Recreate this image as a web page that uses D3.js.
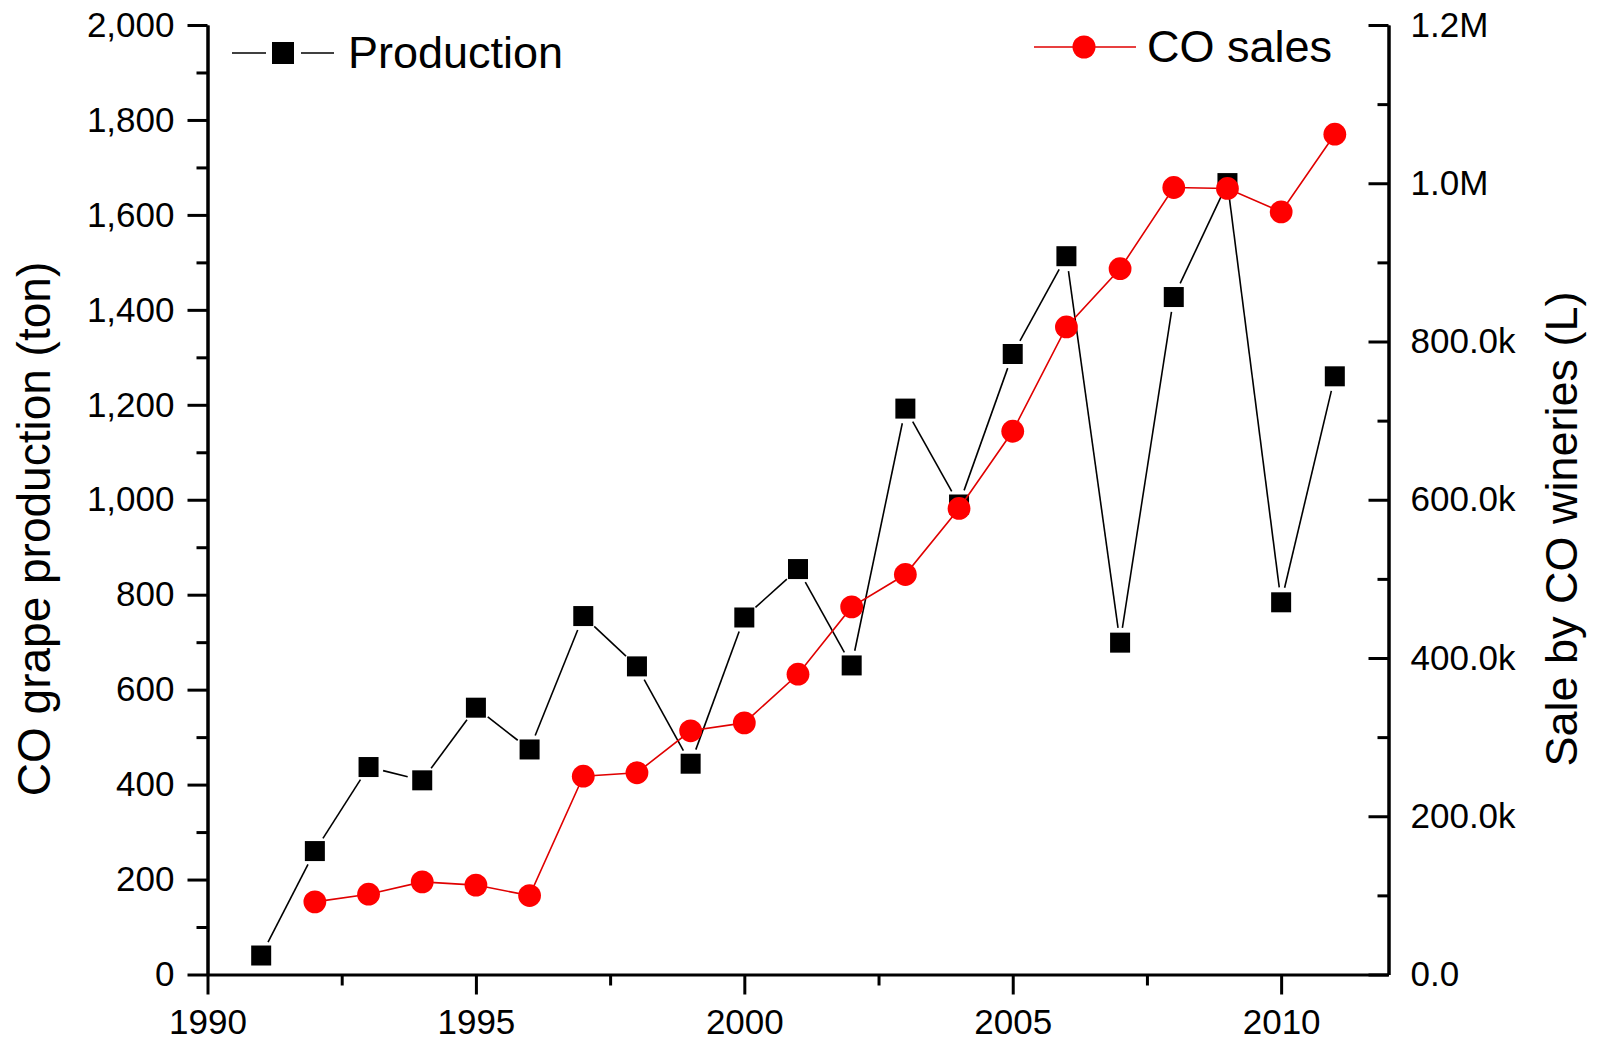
<!DOCTYPE html>
<html>
<head>
<meta charset="utf-8">
<script src="https://cdn.jsdelivr.net/npm/d3@7"></script>
<style>
  html, body { margin: 0; padding: 0; background: #fff; }
  svg { display: block; font-family: "Liberation Sans", Arial, sans-serif; }
</style>
</head>
<body>
<svg id="chart" width="1604" height="1040"></svg>
<script>
// ---- data ----
const prodYears = [1991, 1992, 1993, 1994, 1995, 1996, 1997, 1998, 1999, 2000, 2001, 2002, 2003, 2004, 2005, 2006, 2007, 2008, 2009, 2010, 2011];
const production = [40, 260, 437, 409, 562, 474, 755, 649, 444, 752, 854, 651, 1192, 990, 1307, 1513, 699, 1427, 1667, 784, 1260];
const salesYears = [1992, 1993, 1994, 1995, 1996, 1997, 1998, 1999, 2000, 2001, 2002, 2003, 2004, 2005, 2006, 2007, 2008, 2009, 2010, 2011];
const sales = [91800, 101500, 117000, 113000, 99800, 250600, 255000, 308000, 318000, 379500, 464600, 505500, 589000, 686600, 818400, 892000, 994600, 993400, 963800, 1062000];

const xMajor = [1990, 1995, 2000, 2005, 2010];
const xMinor = [1992.5, 1997.5, 2002.5, 2007.5];
const yLeftMajor = [0, 200, 400, 600, 800, 1000, 1200, 1400, 1600, 1800, 2000];
const yLeftMinor = [100, 300, 500, 700, 900, 1100, 1300, 1500, 1700, 1900];
const yRightMajor = [0, 200000, 400000, 600000, 800000, 1000000, 1200000];
const yRightMinor = [100000, 300000, 500000, 700000, 900000, 1100000];

const seriesNames = ["Production", "CO sales"];
const leftTitle = "CO grape production (ton)";
const rightTitle = "Sale by CO wineries (L)";

// ---- layout ----
const L = 207.5, R = 1388.5, T = 25, B = 974.5;
const svg = d3.select("#chart");

const x = d3.scaleLinear().domain([1990, 2012]).range([L, R]);
const yL = d3.scaleLinear().domain([0, 2000]).range([B, T]);
const yR = d3.scaleLinear().domain([0, 1200000]).range([B, T]);

const fmtRight = v => v === 0 ? "0.0" : (v < 1e6 ? (v / 1000).toFixed(1) + "k" : (v / 1e6).toFixed(1) + "M");

function styleAxis(g, size) {
  g.select(".domain").attr("stroke", "#000").attr("stroke-width", 3);
  g.selectAll(".tick line").attr("stroke", "#000").attr("stroke-width", 3);
  g.selectAll(".tick text").attr("fill", "#000").style("font-size", size + "px")
    .style("font-family", '"Liberation Sans", Arial, sans-serif');
}

// left axis
const gL = svg.append("g").attr("transform", `translate(${L},0)`);
gL.call(d3.axisLeft(yL).tickValues(yLeftMajor).tickSize(20).tickSizeOuter(0).tickPadding(13).tickFormat(d3.format(",")));
styleAxis(gL, 35);
const gLm = svg.append("g").attr("transform", `translate(${L},0)`);
gLm.call(d3.axisLeft(yL).tickValues(yLeftMinor).tickSize(11).tickSizeOuter(0).tickFormat(""));
styleAxis(gLm, 35);

// right axis (ticks inward)
const gR = svg.append("g").attr("transform", `translate(${R},0)`);
gR.call(d3.axisRight(yR).tickValues(yRightMajor).tickSizeInner(-20).tickSizeOuter(0).tickPadding(22).tickFormat(fmtRight));
styleAxis(gR, 35);
const gRm = svg.append("g").attr("transform", `translate(${R},0)`);
gRm.call(d3.axisRight(yR).tickValues(yRightMinor).tickSizeInner(-11).tickSizeOuter(0).tickFormat(""));
styleAxis(gRm, 35);

// bottom axis
const gB = svg.append("g").attr("transform", `translate(0,${B})`);
gB.call(d3.axisBottom(x).tickValues(xMajor).tickSize(20).tickSizeOuter(0).tickPadding(15).tickFormat(d3.format("d")));
styleAxis(gB, 35);
const gBm = svg.append("g").attr("transform", `translate(0,${B})`);
gBm.call(d3.axisBottom(x).tickValues(xMinor).tickSize(11).tickSizeOuter(0).tickFormat(""));
styleAxis(gBm, 35);
gBm.select(".domain").remove();

// axis titles
svg.append("text")
  .attr("transform", `translate(50,529) rotate(-90)`)
  .attr("text-anchor", "middle")
  .style("font-size", "46px").attr("fill", "#000")
  .text(leftTitle);
svg.append("text")
  .attr("transform", `translate(1577,529) rotate(-90)`)
  .attr("text-anchor", "middle")
  .style("font-size", "45px").attr("fill", "#000")
  .text(rightTitle);

// ---- production series (black, gapped line + squares) ----
const prodPts = prodYears.map((yr, i) => [x(yr), yL(production[i])]);
const gap = 15;
const segs = d3.pairs(prodPts).map(([a, b]) => {
  const dx = b[0] - a[0], dy = b[1] - a[1], len = Math.hypot(dx, dy);
  const ux = dx / len, uy = dy / len;
  return [a[0] + ux * gap, a[1] + uy * gap, b[0] - ux * gap, b[1] - uy * gap];
});
svg.append("g").selectAll("line").data(segs).join("line")
  .attr("x1", d => d[0]).attr("y1", d => d[1])
  .attr("x2", d => d[2]).attr("y2", d => d[3])
  .attr("stroke", "#000").attr("stroke-width", 1.6);
const sq = 20;
svg.append("g").selectAll("rect").data(prodPts).join("rect")
  .attr("x", d => d[0] - sq / 2).attr("y", d => d[1] - sq / 2)
  .attr("width", sq).attr("height", sq).attr("fill", "#000");

// ---- sales series (red line + circles) ----
const salesLine = d3.line().x((d, i) => x(salesYears[i])).y(d => yR(d));
svg.append("path").datum(sales)
  .attr("d", salesLine).attr("fill", "none")
  .attr("stroke", "#e00000").attr("stroke-width", 1.6);
svg.append("g").selectAll("circle").data(sales).join("circle")
  .attr("cx", (d, i) => x(salesYears[i])).attr("cy", d => yR(d))
  .attr("r", 11.4).attr("fill", "#ff0000");

// ---- legends ----
const lg1 = svg.append("g");
lg1.append("line").attr("x1", 232).attr("x2", 266).attr("y1", 53).attr("y2", 53).attr("stroke", "#000").attr("stroke-width", 1.6);
lg1.append("line").attr("x1", 301).attr("x2", 334).attr("y1", 53).attr("y2", 53).attr("stroke", "#000").attr("stroke-width", 1.6);
lg1.append("rect").attr("x", 272).attr("y", 42).attr("width", 22).attr("height", 22).attr("fill", "#000");
lg1.append("text").attr("x", 348).attr("y", 68).style("font-size", "45px").attr("fill", "#000").text(seriesNames[0]);

const lg2 = svg.append("g");
lg2.append("line").attr("x1", 1034).attr("x2", 1136).attr("y1", 47).attr("y2", 47).attr("stroke", "#e00000").attr("stroke-width", 1.6);
lg2.append("circle").attr("cx", 1084).attr("cy", 47).attr("r", 11.5).attr("fill", "#ff0000");
lg2.append("text").attr("x", 1147).attr("y", 62).style("font-size", "45px").attr("fill", "#000").text(seriesNames[1]);
</script>
</body>
</html>
